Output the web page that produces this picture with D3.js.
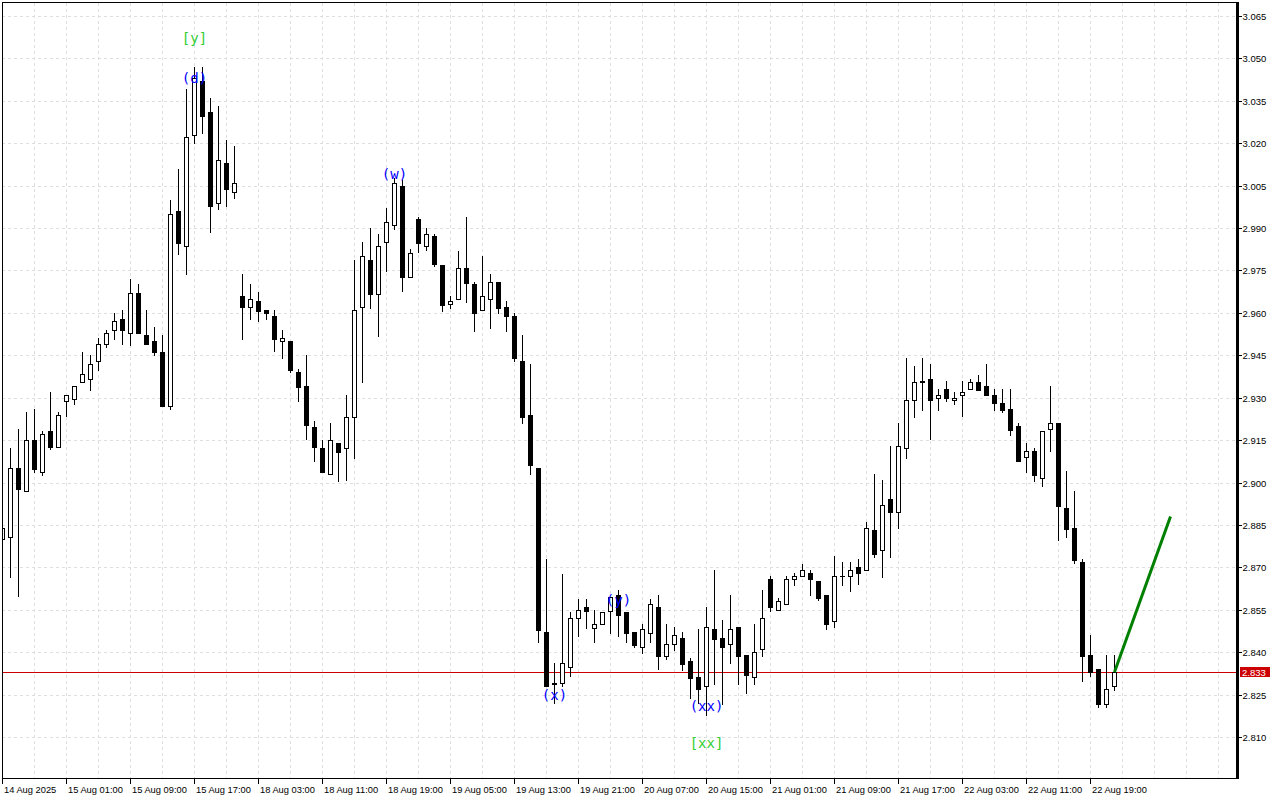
<!DOCTYPE html>
<html>
<head>
<meta charset="utf-8">
<script src="https://cdn.jsdelivr.net/npm/d3@7"></script>
<style>
  html, body { margin: 0; padding: 0; background: #ffffff; }
  svg { display: block; }
</style>
</head>
<body>
<script>
// ---------- DATA (hourly candles) ----------
const opens = [2.8799,2.8808,2.9050,2.8969,2.9149,2.9038,2.9181,2.9127,2.9289,2.9297,
2.9355,2.9366,2.9430,2.9489,2.9538,2.9580,2.9528,2.9670,2.9521,2.9499,
2.9461,2.9269,2.9960,2.9837,3.0229,3.0421,3.0310,2.9990,3.0130,3.0028,
2.9659,2.9620,2.9641,2.9610,2.9589,2.9499,2.9500,2.9391,2.9342,2.9196,
2.9122,2.9029,2.9139,2.9121,2.9230,2.9620,2.9787,2.9668,2.9849,2.9910,
3.0049,2.9728,2.9931,2.9838,2.9872,2.9769,2.9630,2.9648,2.9758,2.9702,
2.9609,2.9648,2.9709,2.9621,2.9589,2.9430,2.9239,2.9050,2.8470,2.8289,
2.8290,2.8348,2.8520,2.8559,2.8487,2.8499,2.8547,2.8601,2.8541,2.8470,
2.8419,2.8469,2.8559,2.8387,2.8428,2.8449,2.8369,2.8312,2.8279,2.8482,
2.8449,2.8428,2.8488,2.8389,2.8311,2.8410,2.8658,2.8548,2.8569,2.8658,
2.8669,2.8680,2.8651,2.8601,2.8510,2.8668,2.8668,2.8700,2.8691,2.8831,
2.8760,2.8941,2.8897,2.9121,2.9291,2.9355,2.9366,2.9298,2.9331,2.9291,
2.9308,2.9331,2.9355,2.9341,2.9308,2.9281,2.9260,2.9200,2.9089,2.9112,
2.9017,2.9188,2.9211,2.8909,2.8839,2.8719,2.8390,2.8340,2.8218,2.8279];

const highs = [2.8850,2.9121,2.9189,2.9248,2.9260,2.9182,2.9320,2.9248,2.9308,2.9341,
2.9462,2.9450,2.9510,2.9538,2.9598,2.9609,2.9720,2.9702,2.9609,2.9549,
2.9521,2.9999,3.0109,3.0392,3.0471,3.0471,3.0360,3.0332,3.0211,3.0191,
2.9739,2.9702,2.9674,2.9610,2.9610,2.9539,2.9500,2.9402,2.9451,2.9216,
2.9150,2.9211,2.9139,2.9310,2.9787,2.9851,2.9900,2.9879,2.9971,3.0077,
3.0070,2.9825,2.9940,2.9899,2.9879,2.9769,2.9659,2.9819,2.9938,2.9710,
2.9800,2.9739,2.9709,2.9641,2.9598,2.9523,2.9419,2.9050,2.8728,2.8361,
2.8676,2.8543,2.8589,2.8589,2.8549,2.8541,2.8595,2.8620,2.8541,2.8470,
2.8500,2.8589,2.8602,2.8500,2.8488,2.8471,2.8380,2.8481,2.8560,2.8691,
2.8514,2.8602,2.8488,2.8389,2.8500,2.8620,2.8669,2.8592,2.8669,2.8680,
2.8711,2.8690,2.8651,2.8601,2.8740,2.8719,2.8719,2.8730,2.8860,2.9030,
2.9009,2.9129,2.9211,2.9439,2.9412,2.9439,2.9419,2.9331,2.9358,2.9319,
2.9358,2.9366,2.9380,2.9419,2.9330,2.9330,2.9330,2.9211,2.9139,2.9121,
2.9182,2.9342,2.9211,2.9041,2.8970,2.8730,2.8461,2.8340,2.8390,2.8390];

const lows = [2.8790,2.8667,2.8600,2.8969,2.9038,2.9028,2.9120,2.9127,2.9237,2.9278,
2.9355,2.9327,2.9398,2.9479,2.9509,2.9489,2.9488,2.9528,2.9489,2.9450,
2.9270,2.9259,2.9808,2.9738,3.0200,3.0237,2.9887,2.9968,2.9979,3.0006,
2.9509,2.9578,2.9570,2.9578,2.9466,2.9439,2.9390,2.9289,2.9155,2.9077,
2.9038,2.9029,2.9007,2.9009,2.9088,2.9357,2.9618,2.9519,2.9749,2.9898,
2.9678,2.9728,2.9816,2.9823,2.9766,2.9608,2.9618,2.9648,2.9640,2.9537,
2.9609,2.9548,2.9598,2.9537,2.9430,2.9211,2.9029,2.8437,2.8279,2.8219,
2.8279,2.8316,2.8458,2.8487,2.8437,2.8499,2.8469,2.8458,2.8437,2.8419,
2.8398,2.8437,2.8339,2.8377,2.8408,2.8337,2.8239,2.8221,2.8179,2.8287,
2.8217,2.8363,2.8287,2.8257,2.8287,2.8387,2.8547,2.8548,2.8569,2.8639,
2.8669,2.8601,2.8584,2.8481,2.8489,2.8638,2.8617,2.8640,2.8691,2.8738,
2.8667,2.8738,2.8838,2.9088,2.9230,2.9258,2.9155,2.9258,2.9288,2.9279,
2.9237,2.9331,2.9328,2.9308,2.9258,2.9248,2.9169,2.9077,2.9037,2.9007,
2.8988,2.9110,2.8798,2.8808,2.8716,2.8299,2.8317,2.8207,2.8207,2.8266];

const closes = [2.8838,2.9050,2.8978,2.9149,2.9048,2.9171,2.9126,2.9238,2.9308,2.9341,
2.9383,2.9420,2.9489,2.9528,2.9570,2.9538,2.9670,2.9528,2.9489,2.9461,
2.9270,2.9950,2.9847,3.0222,3.0430,3.0297,2.9979,3.0140,3.0038,3.0058,
2.9620,2.9648,2.9608,2.9598,2.9509,2.9510,2.9399,2.9339,2.9205,2.9127,
2.9038,2.9149,2.9109,2.9232,2.9609,2.9800,2.9668,2.9838,2.9921,3.0058,
2.9728,2.9811,2.9847,2.9878,2.9774,2.9629,2.9641,2.9758,2.9707,2.9598,
2.9659,2.9709,2.9618,2.9590,2.9439,2.9230,2.9061,2.8478,2.8279,2.8291,
2.8361,2.8520,2.8548,2.8547,2.8499,2.8541,2.8595,2.8530,2.8469,2.8425,
2.8481,2.8569,2.8387,2.8428,2.8459,2.8359,2.8310,2.8268,2.8488,2.8447,
2.8419,2.8482,2.8387,2.8318,2.8400,2.8520,2.8559,2.8580,2.8658,2.8669,
2.8690,2.8658,2.8590,2.8500,2.8669,2.8669,2.8691,2.8679,2.8838,2.8748,
2.8920,2.8897,2.9128,2.9291,2.9355,2.9358,2.9291,2.9308,2.9298,2.9298,
2.9319,2.9355,2.9328,2.9308,2.9280,2.9258,2.9187,2.9077,2.9110,2.9028,
2.9182,2.9211,2.8918,2.8837,2.8727,2.8387,2.8329,2.8218,2.8269,2.8330];

// time axis labels: one every 8 bars, starting at bar 0
const timeLabels = ["14 Aug 2025","15 Aug 01:00","15 Aug 09:00","15 Aug 17:00","18 Aug 03:00",
"18 Aug 11:00","18 Aug 19:00","19 Aug 05:00","19 Aug 13:00","19 Aug 21:00","20 Aug 07:00",
"20 Aug 15:00","21 Aug 01:00","21 Aug 09:00","21 Aug 17:00","22 Aug 03:00","22 Aug 11:00","22 Aug 19:00"];
const timeStep = 8;

// price axis ticks
const priceTicks = [3.065,3.050,3.035,3.020,3.005,2.990,2.975,2.960,2.945,2.930,2.915,2.900,2.885,2.870,2.855,2.840,2.825,2.810];
const currentPrice = 2.833;

// wave labels
const waveText  = ["[y]", "(d)", "(w)", "(x)", "(y)", "(xx)", "[xx]"];
const waveBar   = [24, 24, 49, 69, 77, 88, 88];
const wavePrice = [3.0556, 3.0414, 3.0072, 2.8231, 2.8567, 2.8193, 2.8062];
const waveDegree = ["major", "minor", "minor", "minor", "minor", "minor", "major"];

// projection line
const projBar   = [139, 146];
const projPrice = [2.833, 2.888];

// ---------- LAYOUT ----------
const W = 1280, H = 800;
const plotL = 2, plotR = 1237, plotT = 2, plotB = 778;

const x = d3.scaleLinear().domain([0, 154]).range([2.5, 2.5 + 8 * 154]);
const y = d3.scaleLinear().domain([2.810, 3.065]).range([737, 16]);
const ry = v => Math.round(y(v));

const svg = d3.select("body").append("svg")
  .attr("width", W).attr("height", H)
  .style("font-family", "'Liberation Sans', Arial, sans-serif");

svg.append("rect").attr("width", W).attr("height", H).attr("fill", "#fff");

const plot = svg.append("g");
const clipId = "plotclip";
svg.append("clipPath").attr("id", clipId).append("rect")
  .attr("x", plotL + 0.5).attr("y", plotT).attr("width", plotR - plotL - 1).attr("height", plotB - plotT);

// grid
const grid = plot.append("g").attr("stroke", "#dedede").attr("stroke-width", 1)
  .attr("stroke-dasharray", "3,3").attr("shape-rendering", "crispEdges");
grid.selectAll("line.h").data(priceTicks).join("line").attr("class", "h")
  .attr("x1", plotL).attr("x2", plotR - 1)
  .attr("y1", d => ry(d) + 0.5).attr("y2", d => ry(d) + 0.5);
const vIdx = d3.range(0, 155, 4);
grid.selectAll("line.v").data(vIdx).join("line").attr("class", "v")
  .attr("x1", d => x(d)).attr("x2", d => x(d))
  .attr("y1", plotT + 1).attr("y2", plotB);

// current price line
plot.append("line")
  .attr("x1", plotL).attr("x2", plotR)
  .attr("y1", ry(currentPrice) + 0.5).attr("y2", ry(currentPrice) + 0.5)
  .attr("stroke", "#cc0000").attr("stroke-width", 1).attr("shape-rendering", "crispEdges");

// candles
const bars = d3.range(opens.length).map(i => ({i, o: opens[i], h: highs[i], l: lows[i], c: closes[i]}));
const cg = plot.append("g").attr("clip-path", `url(#${clipId})`).attr("shape-rendering", "crispEdges");
const cand = cg.selectAll("g.c").data(bars).join("g").attr("class", "c");
cand.append("line")
  .attr("x1", d => x(d.i)).attr("x2", d => x(d.i))
  .attr("y1", d => ry(d.h)).attr("y2", d => ry(d.l) + 1)
  .attr("stroke", "#000").attr("stroke-width", 1);
cand.each(function(d) {
  const g = d3.select(this);
  const top = ry(Math.max(d.o, d.c)), bot = ry(Math.min(d.o, d.c));
  const cx = x(d.i);
  if (d.c < d.o) {
    g.append("rect").attr("x", cx - 2.5).attr("y", top).attr("width", 5)
      .attr("height", Math.max(1, bot - top + 1)).attr("fill", "#000");
  } else if (bot - top < 1) {
    g.append("rect").attr("x", cx - 2.5).attr("y", top).attr("width", 5)
      .attr("height", 1).attr("fill", "#000");
  } else {
    g.append("rect").attr("x", cx - 2).attr("y", top + 0.5).attr("width", 4)
      .attr("height", bot - top).attr("fill", "#fff").attr("stroke", "#000").attr("stroke-width", 1);
  }
});

// projection line
plot.append("path")
  .datum(projBar.map((b, k) => [b, projPrice[k]]))
  .attr("d", d3.line().x(d => x(d[0])).y(d => y(d[1])))
  .attr("fill", "none").attr("stroke", "#008000").attr("stroke-width", 3);

// wave labels
plot.selectAll("text.wave").data(waveText).join("text").attr("class", "wave")
  .attr("x", (d, k) => x(waveBar[k]))
  .attr("y", (d, k) => y(wavePrice[k]))
  .attr("text-anchor", "middle")
  .style("font-family", "'DejaVu Sans Mono', monospace")
  .style("font-size", "14px")
  .attr("fill", (d, k) => waveDegree[k] === "major" ? "#32cd32" : "#0000ff")
  .text(d => d);

// frame
svg.append("rect").attr("x", plotL + 0.5).attr("y", plotT + 0.5)
  .attr("width", plotR - plotL - 1).attr("height", plotB - plotT)
  .attr("fill", "none").attr("stroke", "#000").attr("stroke-width", 1).attr("shape-rendering", "crispEdges");
svg.append("rect").attr("x", plotR - 1).attr("y", plotT).attr("width", 3).attr("height", plotB - plotT + 1)
  .attr("fill", "#000");

// price axis
const pa = svg.append("g").attr("transform", `translate(${plotR + 2},0)`);
pa.selectAll("line").data(priceTicks).join("line")
  .attr("x1", 0).attr("x2", 3)
  .attr("y1", d => ry(d) + 0.5).attr("y2", d => ry(d) + 0.5)
  .attr("stroke", "#000").attr("shape-rendering", "crispEdges");
pa.selectAll("text").data(priceTicks).join("text")
  .attr("x", 3.5).attr("y", d => ry(d) + 4)
  .style("font-size", "9.5px").attr("fill", "#000")
  .text(d => d3.format(".3f")(d));

// current price badge
const cpY = ry(currentPrice);
svg.append("rect").attr("x", plotR + 3).attr("y", cpY - 5).attr("width", 30).attr("height", 10)
  .attr("fill", "#cc0000");
svg.append("text").attr("x", plotR + 5).attr("y", cpY + 4)
  .style("font-size", "9.5px").attr("fill", "#fff").text(d3.format(".3f")(currentPrice));

// time axis
const ta = svg.append("g");
const tIdx = timeLabels.map((t, k) => k * timeStep);
ta.selectAll("line").data(tIdx).join("line")
  .attr("x1", d => x(d)).attr("x2", d => x(d))
  .attr("y1", plotB + 1).attr("y2", plotB + 6)
  .attr("stroke", "#000").attr("shape-rendering", "crispEdges");
ta.selectAll("text").data(timeLabels).join("text")
  .attr("x", (d, k) => x(tIdx[k]) + 1.5).attr("y", 793)
  .style("font-size", "9.3px").attr("fill", "#000")
  .text(d => d);
</script>
</body>
</html>
